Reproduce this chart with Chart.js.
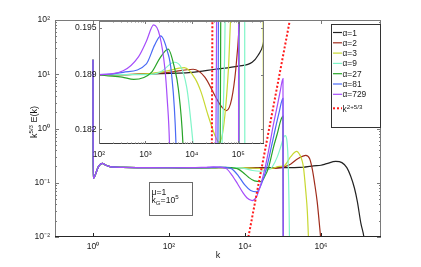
<!DOCTYPE html>
<html><head><meta charset="utf-8">
<script src="https://cdn.jsdelivr.net/npm/chart.js@4.4.1/dist/chart.umd.min.js"></script>
<style>
html,body{margin:0;padding:0;background:#fff;}
#wrap{position:relative;width:421px;height:267px;overflow:hidden;}
#wrap canvas{position:absolute;left:0;top:0;}
</style></head><body>
<div id="wrap"><canvas id="main" width="421" height="267"></canvas><canvas id="inset" width="421" height="267"></canvas></div>
<script>
// ---------------- data ----------------
const seriesLabels = ['α=1', 'α=2', 'α=3', 'α=9', 'α=27', 'α=81', 'α=729'];
const seriesColors = ['#222222', '#a02c1c', '#c8d832', '#80f5c8', '#28a428', '#4a6af5', '#a64dfa'];

// common low-k part (all curves coincide there)
const kStart = [1, 1.01, 1.4, 1.75, 2.2, 3, 6, 20, 100];
const eStart = [18.6, 0.12, 0.2, 0.228, 0.21, 0.196, 0.192, 0.1905, 0.189];

const kA1 = [3.16e2, 1e3, 1e4, 3.16e4, 1e5, 2e5, 2.69e5, 3.47e5, 5.01e5, 6.31e5, 1e6, 1.41e6, 2.45e6, 3.55e6, 4.79e6, 6.03e6, 7.59e6, 9.12e6, 1.12e7, 1.35e7, 1.58e7];
const eA1 = [0.189, 0.1891, 0.1893, 0.1897, 0.1901, 0.1906, 0.1915, 0.193, 0.2, 0.205, 0.21, 0.225, 0.247, 0.235, 0.19, 0.133, 0.08, 0.044, 0.018, 0.01, 0.004];

const kA2 = [3.16e2, 1e3, 3.16e3, 1.07e4, 1.91e4, 3.16e4, 4.37e4, 5.62e4, 7.24e4, 8.91e4, 1.05e5, 1.58e5, 2.51e5, 3.98e5, 5.01e5, 5.89e5, 6.92e5, 7.94e5, 9.77e5, 1.1e6];
const eA2 = [0.189, 0.1891, 0.1893, 0.1897, 0.1887, 0.1863, 0.1849, 0.1844, 0.1859, 0.1898, 0.1953, 0.22, 0.28, 0.32, 0.28, 0.18, 0.09, 0.045, 0.01, 0.004];

const kA3 = [3.16e2, 1e3, 2.51e3, 6.92e3, 1.18e4, 1.58e4, 2.24e4, 3.16e4, 3.89e4, 4.79e4, 6.17e4, 6.92e4, 8.32e4, 1.07e5, 1.58e5, 2.29e5, 2.82e5, 3.16e5, 3.47e5, 3.98e5, 4.37e5, 4.68e5, 5.25e5];
const eA3 = [0.189, 0.1891, 0.1894, 0.1899, 0.1885, 0.1868, 0.1838, 0.1812, 0.1803, 0.1821, 0.1898, 0.1965, 0.2, 0.205, 0.3, 0.38, 0.32, 0.26, 0.19, 0.07, 0.03, 0.01, 0.002];

const kA9 = [3.16e2, 1e3, 2.04e3, 4.27e3, 7.76e3, 1.07e4, 1.58e4, 2.51e4, 3.55e4, 4.79e4, 5.25e4, 7.08e4, 8.91e4, 1.05e5, 1.15e5, 1.26e5, 1.38e5, 1.48e5, 1.55e5];
const eA9 = [0.189, 0.189, 0.1893, 0.1906, 0.1874, 0.18, 0.168, 0.163, 0.17, 0.185, 0.197, 0.3, 0.48, 0.7, 0.74, 0.62, 0.2, 0.01, 0.0001];

const kA27 = [3.16e2, 5.62e2, 1.35e3, 2.04e3, 3.09e3, 4.27e3, 5.13e3, 6.46e3, 8.91e3, 1.26e4, 1.78e4, 2.63e4, 3.31e4, 4.17e4, 5.62e4, 7.08e4, 8.71e4, 1e5, 1.04e5];
const eA27 = [0.1887, 0.1884, 0.1893, 0.1911, 0.1923, 0.1898, 0.1872, 0.18, 0.155, 0.125, 0.108, 0.105, 0.13, 0.19, 0.45, 0.8, 1.4, 1.7, 0.0001];

const kA81 = [3.31e2, 1.05e3, 1.58e3, 2.14e3, 2.95e3, 3.63e3, 4.57e3, 6.76e3, 1e4, 1.41e4, 2.04e4, 2.63e4, 3.72e4, 5.01e4, 6.31e4, 7.94e4, 1e5, 1.03e5];
const eA81 = [0.1893, 0.1904, 0.1928, 0.194, 0.1921, 0.1893, 0.18, 0.133, 0.09, 0.072, 0.068, 0.09, 0.19, 0.48, 1.0, 2.0, 3.6, 0.0001];

const kA729 = [3.31e2, 7.08e2, 1.05e3, 1.51e3, 2.04e3, 2.63e3, 2.95e3, 3.31e3, 4.47e3, 6.31e3, 8.91e3, 1.12e4, 1.55e4, 2e4, 2.51e4, 3.39e4, 4.47e4, 5.62e4, 7.08e4, 8.51e4, 1e5, 1.02e5];
const eA729 = [0.1895, 0.1913, 0.1933, 0.1954, 0.194, 0.1898, 0.1859, 0.18, 0.14, 0.097, 0.065, 0.053, 0.047, 0.055, 0.085, 0.19, 0.5, 1.2, 2.6, 5.0, 8.3, 0.0001];

// reference slope k^(2+5/3)
const kSlope = [1.23e4, 2.71e4, 2.78e4, 1.52e5];
const eSlope = [0.01, 0.18, 0.196, 100];

// axes
const xTicksMain = [1, 1e2, 1e4, 1e6];
const yTicksMain = [0.01, 0.1, 1, 10, 100];
const xTicksInset = [1e2, 1e3, 1e4, 1e5];
const yTicksInset = [0.182, 0.189, 0.195];

// ---------------- helpers ----------------
const FONT = "'Liberation Sans', Arial, Helvetica, sans-serif";
const SUP = {'-':'⁻','0':'⁰','1':'¹','2':'²','3':'³','4':'⁴','5':'⁵','6':'⁶','7':'⁷','8':'⁸','9':'⁹'};
const pow10Label = v => '10' + String(Math.round(Math.log10(v))).split('').map(c => SUP[c]).join('');
const pts = (ks, es) => ks.map((k, i) => ({x: k, y: es[i]}));

const curveK = [kA1, kA2, kA3, kA9, kA27, kA81, kA729];
const curveE = [eA1, eA2, eA3, eA9, eA27, eA81, eA729];

function buildDatasets() {
  const ds = curveK.map((ks, i) => ({
    label: seriesLabels[i],
    data: pts(kStart.concat(ks), eStart.concat(curveE[i])),
    borderColor: seriesColors[i],
    borderWidth: 1.2,
    pointRadius: 0,
    fill: false,
    cubicInterpolationMode: 'monotone',
    clip: 0,
    order: 7 - i
  }));
  ds.push({
    label: 'k^(2+5/3)',
    data: pts(kSlope, eSlope),
    borderColor: '#ff1a1a',
    borderWidth: 2,
    borderDash: [2, 2],
    pointRadius: 0,
    fill: false,
    tension: 0,
    clip: 0,
    order: 0
  });
  return ds;
}

function drawRich(ctx, segs, x, y, size, align, supScale) {
  const sc = supScale || 0.68;
  const fs = s => (s.sup || s.sub) ? size * sc : size;
  let w = 0;
  for (const s of segs) { ctx.font = fs(s) + 'px ' + FONT; w += ctx.measureText(s.t).width; }
  let cx = align === 'center' ? x - w / 2 : x;
  ctx.textAlign = 'left';
  ctx.textBaseline = 'alphabetic';
  for (const s of segs) {
    ctx.font = fs(s) + 'px ' + FONT;
    const dy = s.sup ? -size * 0.42 : s.sub ? size * 0.28 : 0;
    ctx.fillText(s.t, cx, y + dy);
    cx += ctx.measureText(s.t).width;
  }
}

function line(ctx, x1, y1, x2, y2) { ctx.beginPath(); ctx.moveTo(x1, y1); ctx.lineTo(x2, y2); ctx.stroke(); }

// ---------------- main chart plugins ----------------
const legendRows = [32.5, 42.8, 53.1, 63.4, 73.7, 84.0, 94.3, 108.3];
const legendTexts = [
  [{t:'α=1'}], [{t:'α=2'}], [{t:'α=3'}], [{t:'α=9'}], [{t:'α=27'}], [{t:'α=81'}], [{t:'α=729'}],
  [{t:'k'}, {t:'2+5/3', sup:true}]
];

const mainDecor = {
  id: 'mainDecor',
  afterDraw(chart) {
    const {ctx, chartArea: a, scales: {x, y}} = chart;
    ctx.save();
    // frame
    ctx.lineWidth = 1;
    ctx.strokeStyle = '#7a7a7a';
    line(ctx, a.left + 0.5, a.top, a.left + 0.5, a.bottom);
    line(ctx, a.left, a.top + 0.5, a.right, a.top + 0.5);
    line(ctx, a.right - 0.5, a.top, a.right - 0.5, a.bottom);
    ctx.strokeStyle = '#262626';
    line(ctx, a.left, a.bottom - 0.5, a.right, a.bottom - 0.5);
    // y ticks (inward), majors and minors on both sides
    ctx.strokeStyle = '#7a7a7a';
    for (const v of yTicksMain) {
      const p = Math.round(y.getPixelForValue(v)) + 0.5;
      line(ctx, a.left, p, a.left + 4, p);
      line(ctx, a.right, p, a.right - 4, p);
    }
    for (let d = 0.01; d < 100; d *= 10) {
      for (let m = 2; m <= 9; m++) {
        const p = Math.round(y.getPixelForValue(m * d)) + 0.5;
        line(ctx, a.left, p, a.left + 2, p);
        line(ctx, a.right, p, a.right - 2, p);
      }
    }
    for (const v of xTicksMain) {
      const p = Math.round(x.getPixelForValue(v)) + 0.5;
      ctx.strokeStyle = '#262626';
      line(ctx, p, a.bottom, p, a.bottom - 4);
      ctx.strokeStyle = '#7a7a7a';
      line(ctx, p, a.top, p, a.top + 4);
    }
    // axis titles
    ctx.fillStyle = '#1a1a1a';
    drawRich(ctx, [{t:'k'}], 218, 258, 9, 'center');
    ctx.save();
    ctx.translate(36.5, 122);
    ctx.rotate(-Math.PI / 2);
    drawRich(ctx, [{t:'k'}, {t:'5/3', sup:true}, {t:' E(k)'}], 0, 0, 9, 'center');
    ctx.restore();
    // annotation box
    ctx.fillStyle = '#fff';
    ctx.fillRect(149, 182, 43, 33);
    ctx.strokeStyle = '#6a6a6a';
    ctx.strokeRect(149.5, 182.5, 43, 33);
    ctx.fillStyle = '#1a1a1a';
    drawRich(ctx, [{t:'μ=1'}], 151.5, 194.5, 8.6, 'left');
    drawRich(ctx, [{t:'k'}, {t:'G', sub:true}, {t:'=10'}, {t:'5', sup:true}], 151.5, 202.5, 8.6, 'left', 0.72);
    // legend
    ctx.fillStyle = '#fff';
    ctx.fillRect(331, 24, 49, 103);
    ctx.strokeStyle = '#333';
    ctx.lineWidth = 1;
    ctx.strokeRect(331.5, 24.5, 49, 103);
    chart.data.datasets.forEach((ds, i) => {
      const yy = legendRows[i];
      ctx.strokeStyle = ds.borderColor;
      ctx.lineWidth = ds.borderWidth;
      ctx.setLineDash(ds.borderDash || []);
      line(ctx, 333, yy, 342, yy);
      ctx.setLineDash([]);
      ctx.fillStyle = '#1a1a1a';
      drawRich(ctx, legendTexts[i], 342.5, yy + (i === 7 ? 3.8 : 3), 8.4, 'left', 0.74);
    });
    ctx.restore();
  }
};

// ---------------- inset plugins ----------------
const insetDecor = {
  id: 'insetDecor',
  beforeDraw(chart) {
    const {ctx, chartArea: a} = chart;
    ctx.save();
    ctx.fillStyle = '#fff';
    ctx.fillRect(a.left, a.top, a.right - a.left, a.bottom - a.top);
    ctx.restore();
  },
  afterDraw(chart) {
    const {ctx, chartArea: a, scales: {x, y}} = chart;
    ctx.save();
    ctx.lineWidth = 1;
    ctx.strokeStyle = '#7a7a7a';
    line(ctx, a.left + 0.5, a.top, a.left + 0.5, a.bottom);
    line(ctx, a.left, a.top + 0.5, a.right, a.top + 0.5);
    line(ctx, a.right - 0.5, a.top, a.right - 0.5, a.bottom);
    ctx.strokeStyle = '#3a3a3a';
    line(ctx, a.left, a.bottom - 0.5, a.right, a.bottom - 0.5);
    ctx.strokeStyle = '#7a7a7a';
    for (const v of yTicksInset) {
      const p = Math.round(y.getPixelForValue(v)) + 0.5;
      line(ctx, a.left, p, a.left + 3, p);
      line(ctx, a.right, p, a.right - 3, p);
    }
    for (const v of xTicksInset) {
      const p = Math.round(x.getPixelForValue(v)) + 0.5;
      line(ctx, p, a.bottom, p, a.bottom - 3);
      line(ctx, p, a.top, p, a.top + 3);
      for (let m = 2; m <= 9; m++) {
        const q = x.getPixelForValue(m * v);
        if (q >= a.right) break;
        const r = Math.round(q) + 0.5;
        line(ctx, r, a.bottom, r, a.bottom - 1.5);
        line(ctx, r, a.top, r, a.top + 1.5);
      }
    }
    ctx.restore();
  }
};

// ---------------- charts ----------------
const tickFont = {family: FONT, size: 8.6};
const common = {
  responsive: false,
  animation: false,
  devicePixelRatio: 1,
  events: [],
  plugins: {legend: {display: false}, tooltip: {enabled: false}}
};

new Chart(document.getElementById('main'), {
  type: 'line',
  data: {datasets: buildDatasets()},
  options: Object.assign({}, common, {
    layout: {padding: {left: 0, top: 20, right: 40, bottom: 0}},
    scales: {
      x: {
        type: 'logarithmic', min: 0.1, max: 3.8e7,
        afterFit: s => { s.height = 30; },
        afterBuildTicks: s => { s.ticks = xTicksMain.map(v => ({value: v})); },
        grid: {display: false, drawTicks: false},
        border: {display: false},
        ticks: {font: tickFont, color: '#1a1a1a', padding: 4, autoSkip: false, maxRotation: 0, callback: v => pow10Label(v)}
      },
      y: {
        type: 'logarithmic', min: 0.01, max: 100,
        afterFit: s => { s.width = 55; },
        afterBuildTicks: s => { s.ticks = yTicksMain.map(v => ({value: v})); },
        grid: {display: false, drawTicks: false},
        border: {display: false},
        ticks: {font: tickFont, color: '#1a1a1a', padding: 5, autoSkip: false, callback: v => pow10Label(v)}
      }
    }
  }),
  plugins: [mainDecor]
});

new Chart(document.getElementById('inset'), {
  type: 'line',
  data: {datasets: buildDatasets()},
  options: Object.assign({}, common, {
    layout: {padding: {left: 0, top: 21, right: 157, bottom: 0}},
    scales: {
      x: {
        type: 'logarithmic', min: 100, max: 3.6e5,
        afterFit: s => { s.height = 123; },
        afterBuildTicks: s => { s.ticks = xTicksInset.map(v => ({value: v})); },
        grid: {display: false, drawTicks: false},
        border: {display: false},
        ticks: {font: tickFont, color: '#1a1a1a', padding: 5, autoSkip: false, maxRotation: 0, callback: v => pow10Label(v)}
      },
      y: {
        type: 'linear', min: 0.1801, max: 0.1959,
        afterFit: s => { s.width = 99; },
        afterBuildTicks: s => { s.ticks = yTicksInset.map(v => ({value: v})); },
        grid: {display: false, drawTicks: false},
        border: {display: false},
        ticks: {font: tickFont, color: '#1a1a1a', padding: 2.5, autoSkip: false, callback: v => Number(v).toFixed(3)}
      }
    }
  }),
  plugins: [insetDecor]
});
</script>
</body></html>
